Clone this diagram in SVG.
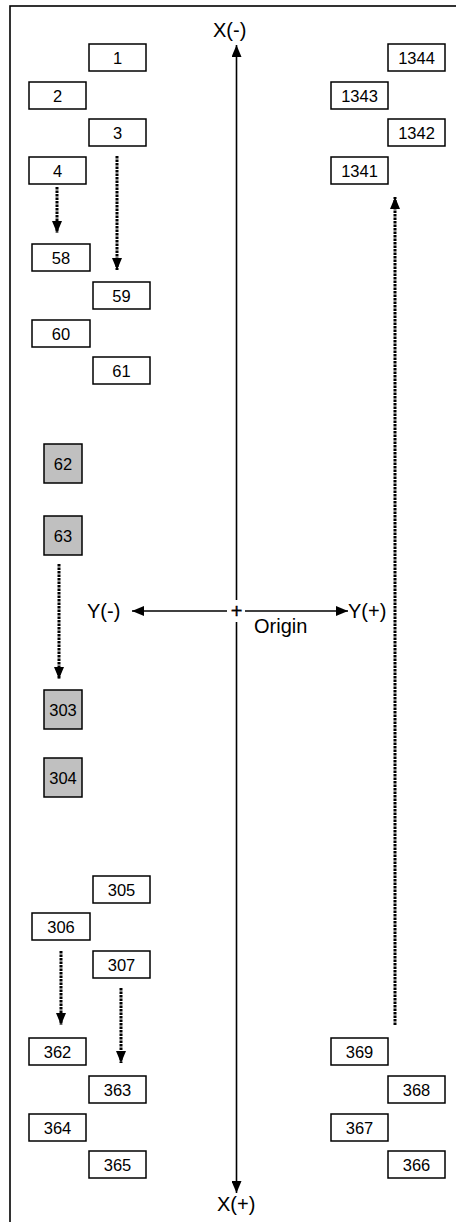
<svg xmlns="http://www.w3.org/2000/svg" width="456" height="1222" viewBox="0 0 456 1222">
<defs>
<style>
.box{fill:#fff;stroke:#000;stroke-width:1.5}
.gbox{fill:#c0c0c0;stroke:#000;stroke-width:1.5}
.lbl{font-family:"Liberation Sans",Arial,sans-serif;font-size:16.5px;text-anchor:middle;fill:#000}
.ax{font-family:"Liberation Sans",Arial,sans-serif;font-size:20px;fill:#000}
.axis{stroke:#000;stroke-width:1.6;fill:none}
.dot{stroke:#000;stroke-width:3;stroke-dasharray:2.5 1;fill:none}
</style>
<marker id="ah" viewBox="0 0 12 10" refX="12" refY="5" markerWidth="12" markerHeight="10" markerUnits="userSpaceOnUse" orient="auto">
<path d="M0,0 L12,5 L0,10 Z" fill="#000"/>
</marker>
</defs>
<rect x="0" y="0" width="456" height="1222" fill="#fff"/>
<rect x="10" y="6" width="460" height="1240" fill="none" stroke="#000" stroke-width="1.6"/>

<g id="connectors">
<line class="axis" x1="236.5" y1="600" x2="236.5" y2="45" marker-end="url(#ah)"/>
<line class="axis" x1="236.5" y1="622" x2="236.5" y2="1193" marker-end="url(#ah)"/>
<line class="axis" x1="227" y1="611" x2="132" y2="611" marker-end="url(#ah)"/>
<line class="axis" x1="245" y1="611" x2="348" y2="611" marker-end="url(#ah)"/>
<line class="dot" x1="57" y1="187" x2="57" y2="233" marker-end="url(#ah)"/>
<line class="dot" x1="117" y1="156" x2="117" y2="270" marker-end="url(#ah)"/>
<line class="dot" x1="59" y1="564" x2="59" y2="679" marker-end="url(#ah)"/>
<line class="dot" x1="61" y1="951" x2="61" y2="1025" marker-end="url(#ah)"/>
<line class="dot" x1="121" y1="988" x2="121" y2="1063" marker-end="url(#ah)"/>
<line class="dot" x1="395" y1="1025" x2="395" y2="197" marker-end="url(#ah)"/>
</g>

<g id="axis-labels">
<text class="ax" x="213" y="37">X(-)</text>
<text class="ax" x="217" y="1211">X(+)</text>
<text class="ax" x="87" y="618">Y(-)</text>
<text class="ax" x="348" y="618">Y(+)</text>
<text class="ax" x="254" y="633">Origin</text>
<text class="ax" x="236.5" y="618" text-anchor="middle" stroke="#000" stroke-width="0.4">+</text>
</g>

<g id="n1"><rect class="box" x="89" y="44" width="57" height="27"/><text class="lbl" x="117.5" y="63.5">1</text></g>
<g id="n2"><rect class="box" x="29" y="82" width="57" height="27"/><text class="lbl" x="57.5" y="101.5">2</text></g>
<g id="n3"><rect class="box" x="89" y="119" width="57" height="27"/><text class="lbl" x="117.5" y="138.5">3</text></g>
<g id="n4"><rect class="box" x="29" y="157" width="57" height="27"/><text class="lbl" x="57.5" y="176.5">4</text></g>
<g id="n58"><rect class="box" x="32" y="244" width="58" height="27"/><text class="lbl" x="61" y="263.5">58</text></g>
<g id="n59"><rect class="box" x="93" y="282" width="57" height="27"/><text class="lbl" x="121.5" y="301.5">59</text></g>
<g id="n60"><rect class="box" x="32" y="320" width="58" height="27"/><text class="lbl" x="61" y="339.5">60</text></g>
<g id="n61"><rect class="box" x="93" y="357" width="57" height="27"/><text class="lbl" x="121.5" y="376.5">61</text></g>

<g id="n62"><rect class="gbox" x="44" y="444" width="38" height="39"/><text class="lbl" x="63" y="469.5">62</text></g>
<g id="n63"><rect class="gbox" x="44" y="516" width="38" height="39"/><text class="lbl" x="63" y="541.5">63</text></g>
<g id="n303"><rect class="gbox" x="44" y="690" width="38" height="39"/><text class="lbl" x="63" y="715.5">303</text></g>
<g id="n304"><rect class="gbox" x="44" y="758" width="38" height="39"/><text class="lbl" x="63" y="783.5">304</text></g>

<g id="n305"><rect class="box" x="93" y="876" width="57" height="27"/><text class="lbl" x="121.5" y="895.5">305</text></g>
<g id="n306"><rect class="box" x="32" y="913" width="58" height="27"/><text class="lbl" x="61" y="932.5">306</text></g>
<g id="n307"><rect class="box" x="93" y="951" width="57" height="27"/><text class="lbl" x="121.5" y="970.5">307</text></g>
<g id="n362"><rect class="box" x="29" y="1038" width="57" height="27"/><text class="lbl" x="57.5" y="1057.5">362</text></g>
<g id="n363"><rect class="box" x="89" y="1076" width="57" height="27"/><text class="lbl" x="117.5" y="1095.5">363</text></g>
<g id="n364"><rect class="box" x="29" y="1114" width="57" height="27"/><text class="lbl" x="57.5" y="1133.5">364</text></g>
<g id="n365"><rect class="box" x="89" y="1151" width="57" height="27"/><text class="lbl" x="117.5" y="1170.5">365</text></g>

<g id="n1344"><rect class="box" x="388" y="44" width="57" height="27"/><text class="lbl" x="416.5" y="63.5">1344</text></g>
<g id="n1343"><rect class="box" x="331" y="82" width="57" height="27"/><text class="lbl" x="359.5" y="101.5">1343</text></g>
<g id="n1342"><rect class="box" x="388" y="119" width="57" height="27"/><text class="lbl" x="416.5" y="138.5">1342</text></g>
<g id="n1341"><rect class="box" x="331" y="157" width="57" height="27"/><text class="lbl" x="359.5" y="176.5">1341</text></g>
<g id="n369"><rect class="box" x="331" y="1038" width="57" height="27"/><text class="lbl" x="359.5" y="1057.5">369</text></g>
<g id="n368"><rect class="box" x="388" y="1076" width="57" height="27"/><text class="lbl" x="416.5" y="1095.5">368</text></g>
<g id="n367"><rect class="box" x="331" y="1114" width="57" height="27"/><text class="lbl" x="359.5" y="1133.5">367</text></g>
<g id="n366"><rect class="box" x="388" y="1151" width="57" height="27"/><text class="lbl" x="416.5" y="1170.5">366</text></g>
</svg>
